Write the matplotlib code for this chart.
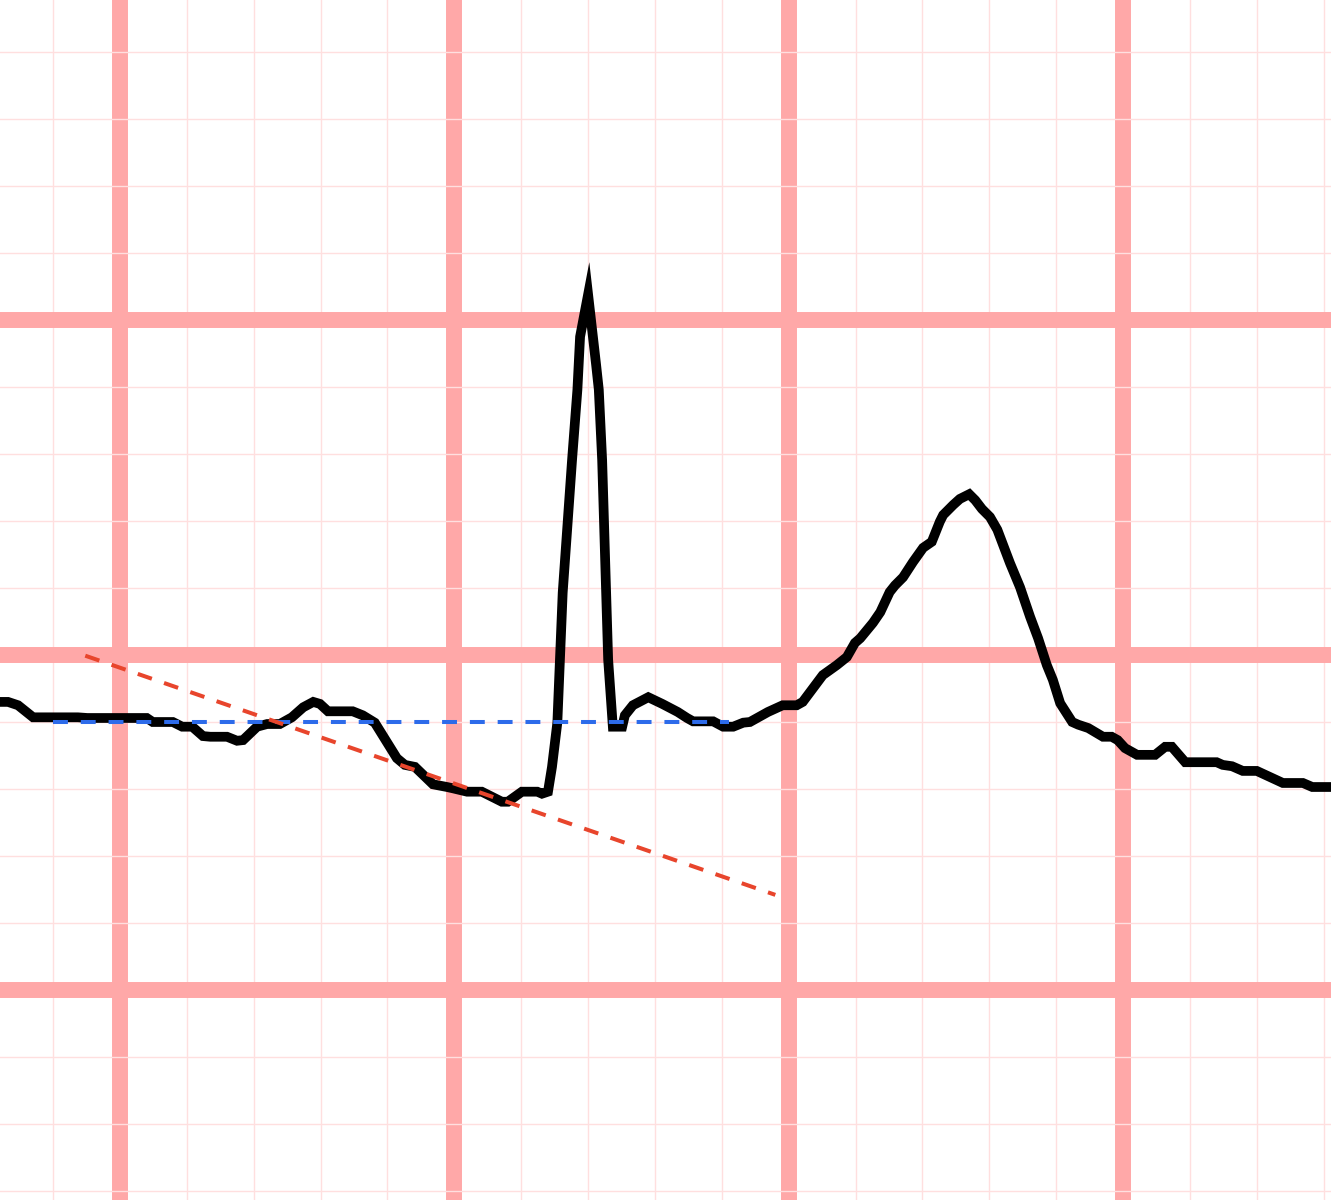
import matplotlib
matplotlib.use('agg')
import matplotlib.pyplot as plt
import numpy as np

# ECG trace, units = small boxes (1 mm)
t_mm = [-1.795, -1.675, -1.525, -1.30, -0.63, -0.49, 0.40, 0.49, 0.79, 0.93,
        1.08, 1.24, 1.35, 1.60, 1.75, 1.84, 2.05, 2.20, 2.39, 2.57,
        2.74, 2.89, 2.99, 3.11, 3.48, 3.63, 3.81, 4.14, 4.26, 4.41,
        4.68, 4.89, 4.98, 5.19, 5.41, 5.71, 5.80, 6.01, 6.24, 6.31,
        6.40, 6.46, 6.54, 6.62, 6.76, 6.84, 6.88, 7.00, 7.12, 7.16, 7.21,
        7.30, 7.37, 7.51, 7.55, 7.67, 7.90, 8.11, 8.34, 8.48, 8.57,
        8.87, 9.02, 9.17, 9.32, 9.42, 9.69, 9.91, 10.12, 10.21, 10.42,
        10.51, 10.72, 10.87, 10.99, 11.07, 11.26, 11.37, 11.51, 11.59, 11.71,
        11.86, 12.01, 12.14, 12.26, 12.31, 12.46, 12.56, 12.70, 12.79, 12.89,
        13.01, 13.12, 13.31, 13.46, 13.61, 13.73, 13.86, 13.95, 14.06, 14.24,
        14.33, 14.48, 14.70, 14.83, 14.92, 15.03, 15.21, 15.48, 15.63, 15.73,
        15.93, 16.40, 16.49, 16.63, 16.79, 17.00, 17.39, 17.69, 17.83, 18.11]
v_mm = [-0.70, -0.70, -0.75, -0.93, -0.93, -0.94, -0.94, -1.00, -1.00, -1.07,
        -1.07, -1.21, -1.22, -1.22, -1.28, -1.27, -1.07, -1.03, -1.03, -0.93,
        -0.78, -0.70, -0.73, -0.84, -0.84, -0.90, -1.01, -1.54, -1.64, -1.67,
        -1.93, -1.97, -1.99, -2.04, -2.04, -2.19, -2.19, -2.04, -2.04, -2.07,
        -2.04, -1.67, -1.01, 0.93, 2.91, 3.96, 4.75, 5.38, 4.33, 3.96, 2.91,
        -0.07, -1.07, -1.07, -0.90, -0.75, -0.63, -0.73, -0.85, -0.94, -0.99,
        -0.99, -1.07, -1.07, -1.01, -1.00, -0.85, -0.75, -0.75, -0.70, -0.42,
        -0.30, -0.15, -0.03, 0.18, 0.25, 0.48, 0.64, 0.94, 1.04, 1.16,
        1.39, 1.60, 1.69, 1.99, 2.09, 2.24, 2.33, 2.40, 2.31, 2.18,
        2.06, 1.87, 1.37, 1.01, 0.57, 0.25, -0.15, -0.37, -0.72, -1.00,
        -1.04, -1.09, -1.22, -1.22, -1.27, -1.39, -1.49, -1.49, -1.37, -1.37,
        -1.60, -1.60, -1.64, -1.66, -1.73, -1.73, -1.91, -1.91, -1.97, -1.97]

# isoelectric baseline (blue) and sloping reference (red)
base_t = [-1.0, 9.1]
base_v = [-1.0, -1.0]
slope_t = [-0.52, 9.80]
slope_v = [-0.01, -3.58]

fig = plt.figure(figsize=(13.31, 12), dpi=100)
ax = fig.add_axes([0, 0, 1, 1])
ax.set_xlim(-1.795, 18.11)
ax.set_ylim(-8.134, 9.776)

ax.set_xticks(np.arange(0, 20, 5))
ax.set_xticks(np.arange(-1, 19, 1), minor=True)
ax.set_yticks(np.arange(-5, 10, 5))
ax.set_yticks(np.arange(-8, 10, 1), minor=True)
ax.grid(which='minor', color='#ffdfdf', linewidth=1.0)
ax.grid(which='major', color='#ffa8a8', linewidth=11.5)
ax.set_axisbelow(True)
ax.tick_params(which='both', length=0, labelbottom=False, labelleft=False)
for s in ax.spines.values():
    s.set_visible(False)

ax.plot(t_mm, v_mm, color='black', linewidth=7, solid_joinstyle='miter', zorder=3)
ax.plot(base_t, base_v, color='#2d6bea', linewidth=2.9, dashes=(3.7, 3.2), zorder=4)
ax.plot(slope_t, slope_v, color='#e8452c', linewidth=2.9, dashes=(3.7, 3.2), zorder=4)

fig.savefig('out.png', dpi=100)
plt.close('all')
